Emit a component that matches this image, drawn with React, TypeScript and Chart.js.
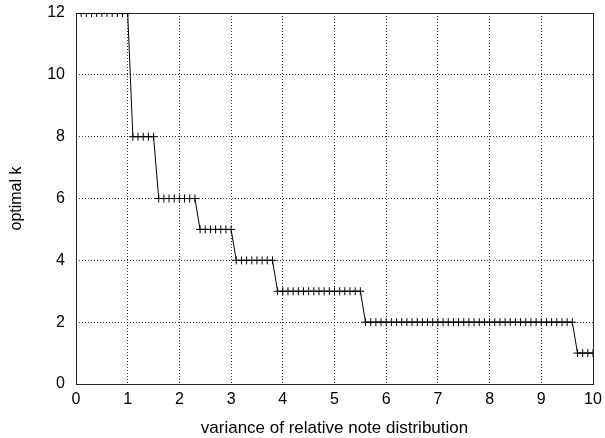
import React, { useEffect, useRef } from "react";
import { Chart, registerables } from "chart.js";

Chart.register(...registerables);

const xValues = [
  0.1, 0.2, 0.3, 0.4, 0.5, 0.6, 0.7, 0.8, 0.9, 1.0,
  1.1, 1.2, 1.3, 1.4, 1.5, 1.6, 1.7, 1.8, 1.9, 2.0,
  2.1, 2.2, 2.3, 2.4, 2.5, 2.6, 2.7, 2.8, 2.9, 3.0,
  3.1, 3.2, 3.3, 3.4, 3.5, 3.6, 3.7, 3.8, 3.9, 4.0,
  4.1, 4.2, 4.3, 4.4, 4.5, 4.6, 4.7, 4.8, 4.9, 5.0,
  5.1, 5.2, 5.3, 5.4, 5.5, 5.6, 5.7, 5.8, 5.9, 6.0,
  6.1, 6.2, 6.3, 6.4, 6.5, 6.6, 6.7, 6.8, 6.9, 7.0,
  7.1, 7.2, 7.3, 7.4, 7.5, 7.6, 7.7, 7.8, 7.9, 8.0,
  8.1, 8.2, 8.3, 8.4, 8.5, 8.6, 8.7, 8.8, 8.9, 9.0,
  9.1, 9.2, 9.3, 9.4, 9.5, 9.6, 9.7, 9.8, 9.9, 10.0,
];

const kValues = [
  12, 12, 12, 12, 12, 12, 12, 12, 12, 12,
  8, 8, 8, 8, 8, 6, 6, 6, 6, 6,
  6, 6, 6, 5, 5, 5, 5, 5, 5, 5,
  4, 4, 4, 4, 4, 4, 4, 4, 3, 3,
  3, 3, 3, 3, 3, 3, 3, 3, 3, 3,
  3, 3, 3, 3, 3, 2, 2, 2, 2, 2,
  2, 2, 2, 2, 2, 2, 2, 2, 2, 2,
  2, 2, 2, 2, 2, 2, 2, 2, 2, 2,
  2, 2, 2, 2, 2, 2, 2, 2, 2, 2,
  2, 2, 2, 2, 2, 2, 1, 1, 1, 1,
];

const xTitle = "variance of relative note distribution";
const yTitle = "optimal k";

const FONT = "'Liberation Sans', Arial, Helvetica, sans-serif";

const framePlugin = {
  id: "frame",
  beforeDraw(chart: any) {
    const ctx = chart.ctx;
    ctx.save();
    ctx.fillStyle = "#ffffff";
    ctx.fillRect(0, 0, chart.width, chart.height);
    ctx.restore();
  },
  beforeDatasetsDraw(chart: any) {
    const { ctx, chartArea } = chart;
    ctx.save();
    ctx.strokeStyle = "#222";
    ctx.lineWidth = 1;
    ctx.setLineDash([]);
    ctx.strokeRect(
      Math.round(chartArea.left) + 0.5,
      Math.round(chartArea.top) + 0.5,
      Math.round(chartArea.right - chartArea.left),
      Math.round(chartArea.bottom - chartArea.top)
    );
    ctx.restore();
  },
};

export default function App() {
  const ref = useRef<HTMLCanvasElement | null>(null);

  useEffect(() => {
    if (!ref.current) return;
    const data = xValues.map((x, i) => ({ x, y: kValues[i] }));
    const chart = new Chart(ref.current, {
      type: "line",
      data: {
        datasets: [
          {
            data,
            borderColor: "#000",
            borderWidth: 1,
            pointStyle: "cross",
            pointRadius: 4,
            pointBorderColor: "#000",
            pointBorderWidth: 1,
            pointBackgroundColor: "#000",
            tension: 0,
            fill: false,
          },
        ],
      },
      options: {
        animation: false,
        responsive: false,
        devicePixelRatio: 1,
        layout: { padding: { left: 0, top: 13, right: 12, bottom: 0 } },
        plugins: { legend: { display: false }, tooltip: { enabled: false } },
        scales: {
          x: {
            type: "linear",
            min: 0,
            max: 10,
            afterFit: (s: any) => {
              s.height = 54;
              s.paddingLeft = 0;
              s.paddingRight = 0;
            },
            ticks: {
              stepSize: 1,
              color: "#000",
              font: { family: FONT, size: 16 },
              padding: 6,
              maxRotation: 0,
            },
            grid: { color: "#333", drawTicks: false, lineWidth: 1 },
            border: { display: false, dash: [1, 2] },
            title: {
              display: true,
              text: xTitle,
              color: "#000",
              font: { family: FONT, size: 17 },
              padding: { top: 0, bottom: -1 },
            },
          },
          y: {
            type: "linear",
            min: 0,
            max: 12,
            afterFit: (s: any) => {
              s.width = 76;
              s.paddingTop = 0;
              s.paddingBottom = 0;
            },
            ticks: {
              stepSize: 2,
              color: "#000",
              font: { family: FONT, size: 16 },
              padding: 11,
            },
            grid: { color: "#333", drawTicks: false, lineWidth: 1 },
            border: { display: false, dash: [1, 2] },
            title: {
              display: true,
              text: yTitle,
              color: "#000",
              font: { family: FONT, size: 16 },
              padding: { top: 7, bottom: 0 },
            },
          },
        },
      },
      plugins: [framePlugin],
    });
    return () => chart.destroy();
  }, []);

  return (
    <div style={{ position: "fixed", left: 0, top: 0, width: 605, height: 438, background: "#fff" }}>
      <canvas ref={ref} width={605} height={438} style={{ display: "block" }} />
    </div>
  );
}
